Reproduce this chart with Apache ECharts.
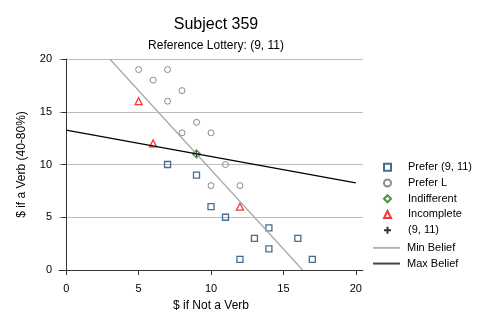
<!DOCTYPE html>
<html>
<head>
<meta charset="utf-8">
<script src="https://cdn.jsdelivr.net/npm/echarts@6/dist/echarts.min.js"></script>
<style>
  html, body { margin: 0; padding: 0; background: #fff; }
  #main { width: 498px; height: 332px; }
</style>
</head>
<body>
<div id="main"></div>
<script>
// values
var preferRef = [[7, 10], [9, 9], [10, 6], [11, 5], [14, 4], [13, 3], [16, 3], [14, 2], [12, 1], [17, 1]];
var preferL = [[5, 19], [7, 19], [6, 18], [8, 17], [7, 16], [9, 14], [8, 13], [10, 13], [11, 10], [10, 8], [12, 8]];
var indifferent = [[9, 11]];
var incomplete = [[5, 16], [6, 12], [12, 6]];
var refLottery = [[9, 11]];
var minBelief = [[3, 20], [16.33, 0]];
var maxBelief = [[0, 13.25], [20, 8.25]];
var xTicks = [0, 5, 10, 15, 20];

var font = "'Liberation Sans', Arial, sans-serif";
var myChart = echarts.init(document.getElementById("main"));

function hollow(color, width) {
  return { color: "rgba(0,0,0,0)", borderColor: color, borderWidth: width };
}

var legendText = { fontSize: 11, color: "#000", lineHeight: 15.7, fontFamily: font };

var option = {
  animation: false,
  backgroundColor: "#fff",
  textStyle: { fontFamily: font },
  title: {
    text: "Subject 359",
    subtext: "Reference Lottery: (9, 11)",
    left: 211,
    textAlign: "center",
    top: 12,
    itemGap: 7,
    textStyle: { fontSize: 16, fontWeight: "normal", color: "#000", fontFamily: font },
    subtextStyle: { fontSize: 12, color: "#000", fontFamily: font }
  },
  legend: [
    {
      // marker entries
      orient: "vertical",
      left: 383,
      top: 159.5,
      padding: 0,
      itemWidth: 7,
      itemHeight: 7,
      itemGap: 0,
      symbolKeepAspect: true,
      textStyle: Object.assign({ padding: [0, 0, 0, 12] }, legendText),
      data: ["Prefer (9, 11)", "Prefer L", "Indifferent", "Incomplete", "(9, 11)"]
    },
    {
      // line entries
      orient: "vertical",
      left: 373,
      top: 240,
      padding: 0,
      itemWidth: 27,
      itemHeight: 2,
      itemGap: 0,
      textStyle: Object.assign({ padding: [0, 0, 0, 2] }, legendText),
      data: [
        { name: "Min Belief", icon: "rect" },
        { name: "Max Belief", icon: "rect" }
      ]
    }
  ],
  grid: { left: 59, right: 135, top: 59, bottom: 62 },
  xAxis: {
    type: "value",
    min: -0.5,
    max: 20.5,
    offset: 8,
    name: "$ if Not a Verb",
    nameLocation: "middle",
    nameGap: 22,
    nameTextStyle: { fontSize: 12, color: "#000", fontFamily: font },
    axisLine: { show: true, lineStyle: { color: "#333", width: 1 } },
    axisTick: { show: true, customValues: xTicks, length: 5, lineStyle: { color: "#333" } },
    axisLabel: { customValues: xTicks, fontSize: 11, color: "#000", margin: 5, fontFamily: font },
    splitLine: { show: false }
  },
  yAxis: {
    type: "value",
    min: 0,
    max: 20,
    interval: 5,
    name: "$ if a Verb (40-80%)",
    nameLocation: "middle",
    nameGap: 31,
    nameTextStyle: { fontSize: 12, color: "#000", fontFamily: font },
    axisLine: { show: true, lineStyle: { color: "#333", width: 1 } },
    axisTick: { show: true, length: 5, lineStyle: { color: "#333" } },
    axisLabel: { fontSize: 11, color: "#000", margin: 7, fontFamily: font },
    splitLine: { show: true, lineStyle: { color: "#bdbdbd", width: 1 } }
  },
  series: [
    {
      name: "Prefer (9, 11)",
      type: "scatter",
      symbol: "rect",
      symbolSize: 6,
      itemStyle: hollow("#1a476f", 1.3),
      data: preferRef
    },
    {
      name: "Prefer L",
      type: "scatter",
      symbol: "circle",
      symbolSize: 6,
      itemStyle: hollow("#6e6e6e", 1),
      data: preferL
    },
    {
      name: "Indifferent",
      type: "scatter",
      symbol: "diamond",
      symbolSize: 8,
      itemStyle: hollow("#1c7a1c", 1.3),
      data: indifferent
    },
    {
      name: "Incomplete",
      type: "scatter",
      symbol: "triangle",
      symbolSize: 7,
      itemStyle: hollow("#ff0000", 1.3),
      data: incomplete
    },
    {
      name: "(9, 11)",
      type: "scatter",
      symbol: "path://M5,0 L5,10 M0,5 L10,5",
      symbolSize: 6,
      itemStyle: hollow("#000", 1),
      data: refLottery
    },
    {
      name: "Min Belief",
      type: "line",
      symbol: "none",
      lineStyle: { color: "#a6a6a6", width: 1.2 },
      itemStyle: { color: "#b4b4b4" },
      data: minBelief
    },
    {
      name: "Max Belief",
      type: "line",
      symbol: "none",
      lineStyle: { color: "#000", width: 1.2 },
      itemStyle: { color: "#444" },
      data: maxBelief
    }
  ]
};

myChart.setOption(option);
</script>
</body>
</html>
